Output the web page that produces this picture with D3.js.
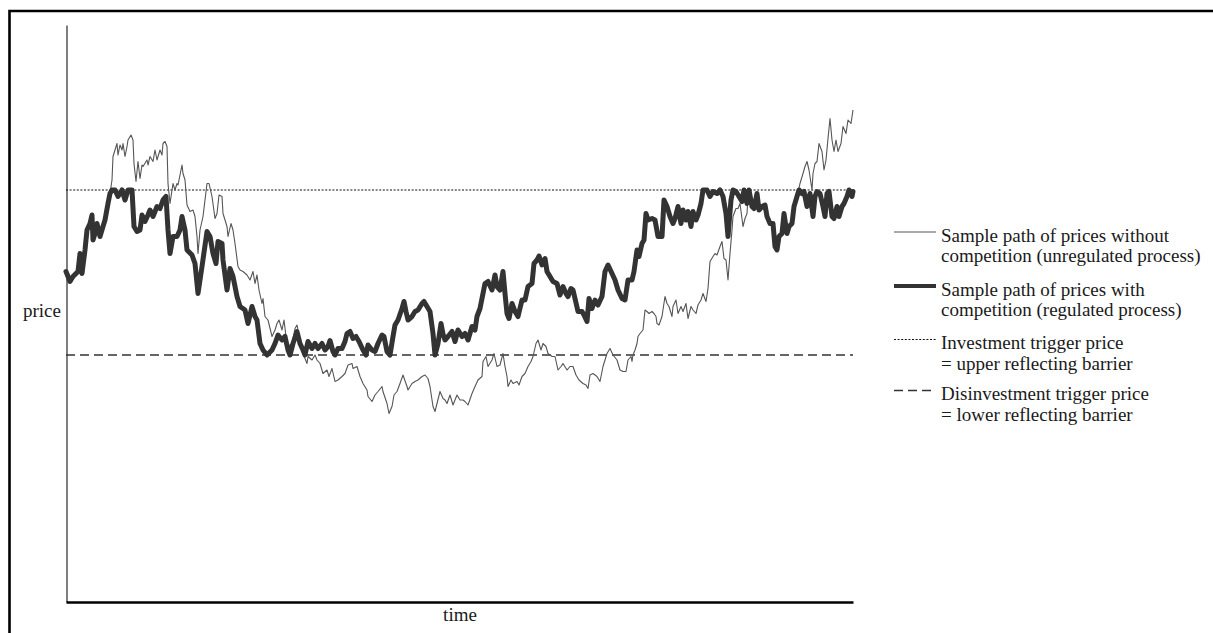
<!DOCTYPE html>
<html><head><meta charset="utf-8">
<script src="https://cdn.jsdelivr.net/npm/d3@7"></script>
<style>body{margin:0;background:#fff}svg{display:block}</style>
</head><body>
<svg id="chart" width="1213" height="633"></svg>
<script>
// ---- data (time units, price units) ----
const timeDomain = [0, 787];
const priceDomain = [0, 115.4];
const upperBarrier = 82.4;   // investment trigger price
const lowerBarrier = 49.4;   // disinvestment trigger price

const regulatedPath = [[0,66.1],[4,64.1],[7,65.1],[12,66.1],[14,69.7],[16,65.7],[19,70.4],[21,74.4],[24,75.7],[26,77.4],[27,72.4],[29,73.7],[31,75.7],[34,73.1],[37,75.1],[39,76.4],[42,79.7],[44,81.7],[46,82.4],[49,82.4],[52,81.1],[56,82.4],[59,80.4],[62,82.4],[66,82.4],[68,75.1],[71,74.1],[74,74.4],[76,77.4],[79,76.1],[82,77.4],[84,78.4],[87,77.1],[91,79.1],[94,78.7],[97,80.4],[100,81.1],[102,74.4],[104,69.7],[107,73.1],[111,73.1],[114,74.4],[116,77.1],[119,74.4],[121,70.4],[126,69.4],[129,67.7],[132,61.7],[136,67.1],[141,74.1],[144,73.1],[147,69.7],[150,67.7],[152,72.1],[156,71.7],[157,68.4],[161,62.4],[164,66.7],[167,65.1],[171,61.1],[174,59.1],[179,58.4],[182,55.7],[186,59.1],[189,57.1],[191,56.4],[194,51.7],[197,50.4],[201,49.4],[206,50.4],[209,51.7],[212,53.4],[216,52.4],[219,53.1],[222,50.4],[224,49.4],[227,51.7],[231,54.1],[234,51.7],[237,50.4],[239,49.4],[242,52.1],[246,50.7],[249,51.7],[252,50.7],[256,51.7],[259,50.4],[262,51.1],[264,52.3],[267,50.1],[269,49.4],[272,50.7],[276,50.7],[279,52.1],[281,53.7],[284,54.1],[287,52.7],[290,53.1],[293,52.1],[297,50.4],[300,49.4],[302,51.4],[306,50.4],[309,50.1],[312,51.7],[316,53.4],[318,53.1],[321,50.1],[324,49.4],[327,53.1],[329,55.4],[332,56.4],[336,58.7],[338,60.1],[340,58.1],[342,56.4],[346,57.1],[349,58.1],[352,58.4],[356,59.7],[358,60.1],[361,59.1],[364,58.1],[367,53.7],[369,49.4],[372,51.7],[375,55.7],[377,53.6],[379,52.4],[382,53.1],[386,54.1],[389,52.1],[392,54.4],[396,53.1],[399,53.7],[402,52.4],[406,55.1],[409,54.4],[411,57.1],[414,58.7],[417,61.7],[419,63.7],[422,64.1],[426,62.4],[429,65.4],[431,63.1],[434,62.4],[437,66.1],[439,61.7],[441,57.7],[443,56.7],[446,59.7],[449,58.1],[452,57.1],[456,60.4],[459,60.4],[462,63.1],[466,63.7],[468,67.7],[471,68.4],[473,69.2],[476,67.4],[479,68.7],[481,66.1],[484,65.1],[487,64.1],[491,63.7],[494,61.4],[497,63.1],[500,61.7],[502,61.1],[505,62.7],[507,62.4],[509,60.7],[512,58.1],[516,58.1],[518,57.4],[521,56.1],[523,60.7],[526,58.7],[529,60.4],[532,59.4],[536,61.1],[539,66.1],[542,67.4],[546,65.7],[549,64.4],[552,62.4],[556,60.7],[559,60.4],[562,64.4],[566,64.4],[568,66.1],[571,70.4],[573,69.1],[576,71.7],[578,72.4],[580,77.7],[582,76.4],[586,76.7],[589,76.4],[592,73.1],[596,73.1],[598,80.4],[601,79.1],[604,77.1],[607,75.7],[609,76.7],[612,79.1],[615,75.7],[617,78.4],[620,76.4],[622,78.1],[625,75.1],[627,78.1],[630,76.4],[632,77.4],[635,79.7],[637,82.4],[641,82.4],[644,81.1],[647,82.1],[651,81.7],[654,82.4],[657,81.1],[660,77.7],[662,73.1],[665,80.4],[667,82.4],[670,82.1],[673,81.1],[676,80.1],[678,82.4],[681,79.7],[683,82.4],[686,79.1],[688,78.7],[691,81.7],[693,78.4],[696,79.1],[699,79.4],[701,77.1],[704,75.7],[707,75.7],[709,71.1],[711,70.4],[713,73.1],[716,73.7],[718,77.7],[721,73.7],[723,75.1],[726,75.7],[728,79.1],[731,81.1],[733,82.4],[736,81.7],[738,82.1],[741,79.1],[744,81.7],[747,77.1],[749,81.1],[751,82.1],[754,81.7],[757,79.1],[759,77.1],[761,81.7],[763,82.1],[766,77.1],[768,76.7],[771,79.1],[773,77.1],[776,79.1],[778,79.7],[781,81.1],[783,82.4],[786,81.1],[787,82.1]];

const unregulatedPath = [[0,66.1],[4,64.1],[7,65.1],[12,66.1],[14,69.7],[16,65.7],[19,70.4],[21,74.4],[24,75.7],[26,77.4],[27,72.4],[29,73.7],[31,75.7],[34,73.1],[37,75.1],[39,76.4],[42,79.7],[44,81.7],[46,84.4],[47,89.1],[49,90.4],[51,91.7],[52,89.4],[54,91.4],[56,90.4],[57,91.7],[59,89.1],[61,91.1],[62,92.4],[65,93.4],[67,92.4],[68,87.7],[70,84.1],[72,88.1],[74,84.7],[76,87.4],[77,87.1],[81,88.4],[82,87.4],[84,89.1],[87,88.1],[89,90.4],[91,88.4],[94,90.4],[96,89.4],[97,91.7],[99,92.1],[101,91.1],[102,83.7],[104,79.7],[106,82.4],[107,83.7],[109,82.4],[111,83.7],[112,83.4],[114,85.4],[116,87.4],[117,85.7],[119,84.4],[121,79.4],[124,78.1],[127,78.4],[129,77.1],[131,73.1],[132,69.7],[134,74.4],[137,77.1],[141,83.7],[143,83.7],[146,81.1],[149,76.7],[151,77.7],[153,81.4],[156,81.1],[157,77.7],[161,75.1],[162,73.1],[165,75.7],[167,74.4],[169,71.7],[172,67.1],[174,66.4],[177,66.1],[181,65.4],[184,64.4],[187,66.1],[189,63.7],[191,65.4],[193,62.4],[196,59.7],[197,60.7],[199,57.1],[202,56.4],[206,53.1],[209,54.4],[211,55.7],[213,56.4],[216,54.4],[218,56.4],[220,53.1],[222,51.1],[226,51.7],[229,54.7],[231,55.4],[234,52.4],[237,49.7],[241,47.7],[242,49.1],[246,48.4],[249,49.4],[251,48.4],[254,47.7],[257,45.7],[261,46.4],[263,45.1],[266,46.7],[269,44.1],[272,44.4],[276,45.1],[279,45.7],[282,47.4],[286,47.7],[287,46.7],[291,47.1],[294,45.1],[297,43.7],[301,42.4],[302,41.1],[306,40.1],[309,41.4],[312,42.1],[316,43.1],[317,42.1],[321,39.7],[323,37.7],[326,39.1],[328,41.4],[331,42.1],[334,43.7],[337,45.4],[341,43.1],[342,42.4],[346,43.7],[349,44.1],[352,44.4],[356,45.1],[359,45.4],[362,44.7],[364,43.1],[367,39.1],[369,38.1],[371,39.7],[374,42.1],[377,40.7],[379,40.4],[381,39.7],[384,41.4],[387,39.4],[389,40.4],[391,41.4],[394,40.4],[397,40.4],[399,40.1],[402,39.4],[406,41.7],[409,43.1],[412,44.4],[416,45.1],[417,48.1],[420,49.1],[422,47.1],[426,48.4],[428,49.7],[431,47.1],[434,47.4],[437,49.7],[439,47.1],[441,45.1],[442,43.1],[445,44.4],[447,43.7],[451,44.1],[453,43.4],[456,45.1],[459,45.7],[462,47.1],[465,48.1],[467,49.1],[470,51.7],[472,52.4],[475,50.4],[477,51.7],[480,51.1],[482,49.7],[486,49.1],[489,49.1],[492,46.4],[495,47.1],[497,47.7],[501,46.4],[504,47.1],[507,47.1],[510,45.4],[513,44.4],[517,43.7],[520,43.4],[522,42.7],[524,45.4],[527,45.7],[531,45.1],[534,44.1],[537,47.1],[541,49.7],[544,50.7],[547,49.4],[551,48.4],[554,46.4],[557,46.1],[560,46.1],[562,48.4],[565,49.1],[566,48.1],[567,49.4],[569,50.4],[571,51.7],[572,53.1],[574,53.7],[577,54.4],[579,58.4],[581,58.1],[583,57.7],[586,58.1],[588,57.7],[590,57.1],[591,55.7],[593,55.4],[596,57.1],[599,61.1],[601,59.7],[603,59.1],[606,57.1],[607,59.1],[610,60.4],[612,57.7],[615,59.1],[617,58.1],[620,59.7],[622,56.7],[625,59.1],[627,58.4],[630,57.7],[632,59.4],[635,60.4],[637,61.7],[640,60.1],[642,62.7],[644,68.1],[647,69.1],[649,69.7],[651,69.4],[654,71.1],[656,72.1],[658,68.7],[660,68.4],[662,64.4],[664,69.7],[666,74.4],[667,77.1],[670,78.7],[672,78.7],[674,79.7],[677,75.1],[679,76.7],[681,77.7],[682,81.1],[683,82.4],[686,79.1],[688,78.7],[691,81.7],[693,78.4],[696,79.1],[699,79.4],[701,77.1],[704,75.7],[707,75.7],[709,71.1],[711,70.4],[713,73.1],[716,73.7],[718,77.7],[721,73.7],[723,75.1],[726,75.7],[728,79.1],[731,81.1],[734,83.7],[737,85.7],[739,87.1],[741,88.1],[743,86.4],[746,82.4],[747,85.7],[749,87.7],[751,88.1],[753,91.7],[756,90.1],[758,86.4],[760,88.4],[762,92.7],[764,96.7],[766,92.4],[768,90.1],[770,92.4],[772,90.1],[775,91.7],[777,95.1],[780,93.7],[782,96.4],[785,95.7],[787,98.4]];

const axisLabels = { y: "price", x: "time" };
const legendLabels = [
  ["Sample path of prices without", "competition (unregulated process)"],
  ["Sample path of prices with", "competition (regulated process)"],
  ["Investment trigger price", "= upper reflecting barrier"],
  ["Disinvestment trigger price", "= lower reflecting barrier"]
];

// ---- styles ----
const FONT = "'Liberation Serif','Times New Roman',serif";
const TEXT_COLOR = "#1a1a1a";
const styles = [
  { stroke: "#555555", width: 1.1, dash: null },
  { stroke: "#333333", width: 5, dash: null },
  { stroke: "#111111", width: 1.2, dash: "2,1.6" },
  { stroke: "#333333", width: 1.6, dash: "9,5" }
];

const svg = d3.select("#chart");
const x = d3.scaleLinear().domain(timeDomain).range([66, 853]);
const y = d3.scaleLinear().domain(priceDomain).range([602, 25]);

// frame
svg.append("path").attr("d", "M9.5,640V11H1220")
  .attr("fill", "none").attr("stroke", "#000").attr("stroke-width", 2.6);

// axes
const gy = svg.append("g").attr("transform", "translate(66.5,0)")
  .call(d3.axisLeft(y).tickValues([]).tickSizeOuter(0));
gy.select(".domain").attr("stroke", "#555").attr("stroke-width", 1.5);
const gx = svg.append("g").attr("transform", "translate(0,602)")
  .call(d3.axisBottom(x).tickValues([]).tickSizeOuter(0));
gx.select(".domain").attr("stroke", "#000").attr("stroke-width", 2.6);

// barriers
function hline(v, st) {
  svg.append("line").attr("x1", x(timeDomain[0])).attr("x2", x(timeDomain[1]))
    .attr("y1", y(v)).attr("y2", y(v))
    .attr("stroke", st.stroke).attr("stroke-width", st.width)
    .attr("stroke-dasharray", st.dash);
}
hline(upperBarrier, styles[2]);
hline(lowerBarrier, styles[3]);

// paths
const line = d3.line().x(d => x(d[0])).y(d => y(d[1]));
svg.append("path").datum(unregulatedPath).attr("d", line)
  .attr("fill", "none").attr("stroke", styles[0].stroke).attr("stroke-width", styles[0].width)
  .attr("stroke-linejoin", "round");
svg.append("path").datum(regulatedPath).attr("d", line)
  .attr("fill", "none").attr("stroke", styles[1].stroke).attr("stroke-width", styles[1].width)
  .attr("stroke-linejoin", "round").attr("stroke-linecap", "round");

// axis labels
svg.append("text").attr("x", 42).attr("y", 316.5).attr("text-anchor", "middle")
  .attr("font-family", FONT).attr("font-size", 19).attr("fill", TEXT_COLOR).text(axisLabels.y);
svg.append("text").attr("x", 460).attr("y", 620.5).attr("text-anchor", "middle")
  .attr("font-family", FONT).attr("font-size", 19).attr("fill", TEXT_COLOR).text(axisLabels.x);

// legend
const legendBase = [241.5, 295.5, 349, 400];
legendLabels.forEach((lines, i) => {
  const st = styles[i];
  const by = legendBase[i];
  svg.append("line").attr("x1", 894).attr("x2", 936)
    .attr("y1", by - 9.5).attr("y2", by - 9.5)
    .attr("stroke", st.stroke).attr("stroke-width", i === 1 ? 4 : st.width)
    .attr("stroke-dasharray", st.dash);
  lines.forEach((t, j) => {
    svg.append("text").attr("x", 941).attr("y", by + j * 20.5)
      .attr("font-family", FONT).attr("font-size", 19).attr("fill", TEXT_COLOR).text(t);
  });
});
</script>
</body></html>
